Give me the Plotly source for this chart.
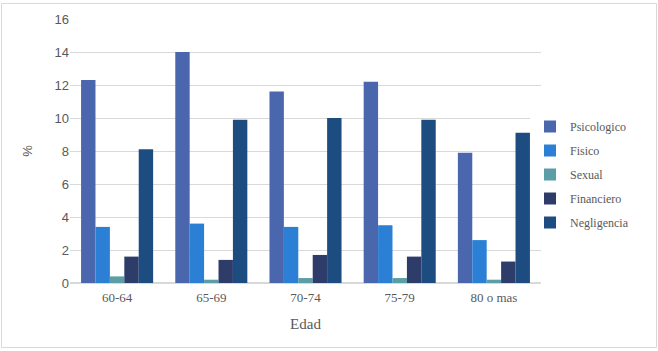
import plotly.graph_objects as go

categories = ["60-64", "65-69", "70-74", "75-79", "80 o mas"]
psicologico = [12.3, 14.0, 11.6, 12.2, 7.9]
fisico = [3.4, 3.6, 3.4, 3.5, 2.6]
sexual = [0.4, 0.2, 0.3, 0.3, 0.2]
financiero = [1.6, 1.4, 1.7, 1.6, 1.3]
negligencia = [8.1, 9.9, 10.0, 9.9, 9.1]

series = [
    ("Psicologico", psicologico, "#4a67ad"),
    ("Fisico", fisico, "#2b7fd4"),
    ("Sexual", sexual, "#5b9ea6"),
    ("Financiero", financiero, "#2e3c6a"),
    ("Negligencia", negligencia, "#1c4c80"),
]

fig = go.Figure()
for name, vals, col in series:
    fig.add_trace(go.Bar(x=categories, y=vals, name=name, marker_color=col,
                         marker_line_width=0, legendgroup=name))

W, H = 658, 351
L, R, T, B = 70, 117, 19, 68
pw, ph = W - L - R, H - T - B

def px(x):
    return (x - L) / pw

def py(y):
    return (H - B - y) / ph

fig.update_layout(
    width=W, height=H,
    margin=dict(l=L, r=R, t=T, b=B, autoexpand=False),
    paper_bgcolor="white", plot_bgcolor="white",
    barmode="group", bargap=0.235, bargroupgap=0,
    font=dict(family="Liberation Serif", color="#595959", size=12),
    xaxis=dict(
        title=dict(text="Edad", font=dict(family="Liberation Serif", size=15, color="#595959"), standoff=14),
        tickfont=dict(family="Liberation Serif", size=13, color="#595959"),
        ticklabelstandoff=5,
        showgrid=False, showline=False, ticks="", automargin=False,
    ),
    yaxis=dict(
        title=dict(text="%", font=dict(family="Liberation Sans", size=13, color="#595959"), standoff=18),
        range=[0, 16], dtick=2,
        tickfont=dict(family="Liberation Sans", size=13, color="#595959"),
        showgrid=True, gridcolor="#d9d9d9", gridwidth=1,
        zeroline=True, zerolinecolor="#d9d9d9", showline=False, ticks="",
        automargin=False,
    ),
    legend=dict(
        x=px(530), y=py(174.5), xanchor="left", yanchor="middle",
        font=dict(family="Liberation Serif", size=12, color="#595959"),
        traceorder="grouped", tracegroupgap=5,
    ),
    shapes=[dict(type="rect", xref="paper", yref="paper",
                 x0=px(1.5), x1=px(656.5), y0=py(347.5), y1=py(3.5),
                 line=dict(color="#d9d9d9", width=1), fillcolor="rgba(0,0,0,0)",
                 layer="below")],
)

fig.write_html("out.html", config={"displayModeBar": False},
               post_script="document.body.style.margin='0px';")
